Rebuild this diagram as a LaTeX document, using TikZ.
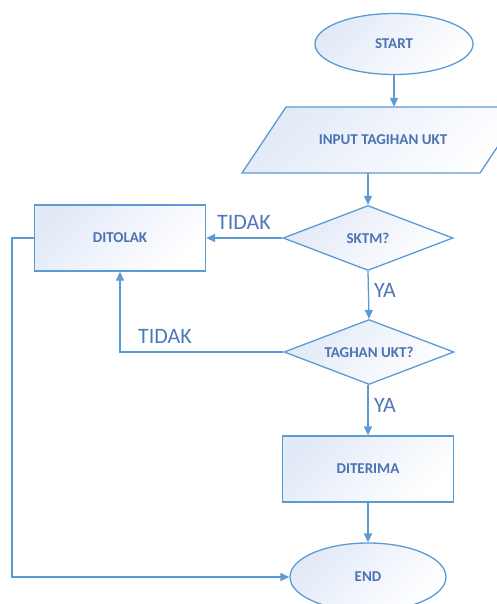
\documentclass[tikz,border=0pt]{standalone}
\usepackage{fontspec}
\setmainfont{Carlito}
\usetikzlibrary{shapes.geometric,arrows.meta}
\definecolor{flowline}{RGB}{91,155,213}
\definecolor{flowtext}{RGB}{76,114,180}
\definecolor{flowfill}{RGB}{226,234,247}
\begin{document}
\begin{tikzpicture}[x=1pt,y=-1pt,
    shade/.style={draw=flowline,line width=1.3pt,top color=flowfill,bottom color=white,
        shading angle=45},
    box/.style={shade,text=flowtext,font=\fontsize{15}{17}\selectfont\bfseries},
    term/.style={box,ellipse},
    proc/.style={box,rectangle,minimum width=171pt,minimum height=66pt},
    dec/.style={box,diamond,aspect=2.6,minimum width=170pt,minimum height=65pt,inner sep=0pt},
    io/.style={text=flowtext,font=\fontsize{15}{17}\selectfont\bfseries,
        minimum width=238pt,minimum height=66pt},
    flow/.style={draw=flowline,line width=1.3pt,-{Triangle[length=9pt,width=8pt]}},
    lbl/.style={text=flowtext!85!flowline,font=\fontsize{22}{25}\selectfont}]
    \useasboundingbox (0,0) rectangle (496,604);
    % shapes
    \node[term,minimum width=158pt,minimum height=61pt] (start) at (394,44) {START};
    \draw[shade] (242,173) -- (480,173) -- (524,107) -- (286,107) -- cycle;
    \node[io] (input) at (383,140) {INPUT TAGIHAN UKT};
    \node[dec] (sktm) at (368,238) {SKTM?};
    \node[dec] (tagihan) at (369,352) {TAGHAN UKT?};
    \node[proc] (ditolak) at (120,238) {DITOLAK};
    \node[proc] (diterima) at (368,469) {DITERIMA};
    \node[term,minimum width=156pt,minimum height=68pt] (end) at (368,577) {END};
    % connectors
    \draw[flow] (start.south) -- (start.south |- input.north);
    \draw[flow] (sktm.north |- input.south) -- (sktm.north);
    \draw[flow] (sktm.west) -- (ditolak.east);
    \draw[flow] (sktm.south) -- (tagihan.north);
    \draw[flow] (tagihan.west) -| (ditolak.south);
    \draw[flow] (tagihan.south -| diterima.north) -- (diterima.north);
    \draw[flow] (diterima.south) -- (end.north);
    \draw[flow] (ditolak.west) -- ++(-22,0) |- (end.west);
    % labels
    \node[lbl] (tidaka) at (244,222) {TIDAK};
    \node[lbl] (tidakb) at (165,336) {TIDAK};
    \node[lbl] (yaa) at (385,290) {YA};
    \node[lbl] (yab) at (385,405) {YA};
\end{tikzpicture}
\end{document}
